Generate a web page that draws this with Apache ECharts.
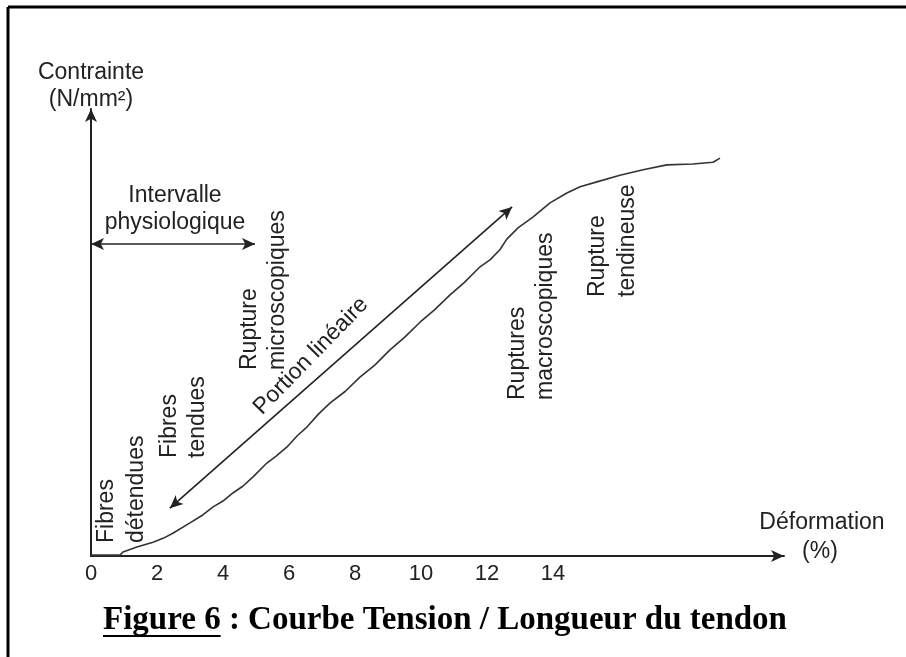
<!DOCTYPE html>
<html>
<head>
<meta charset="utf-8">
<script src="https://cdn.jsdelivr.net/npm/echarts@6/dist/echarts.min.js"></script>
<style>
  html, body { margin: 0; padding: 0; background: #fff; }
  #main { width: 906px; height: 657px; }
</style>
</head>
<body>
<div id="main"></div>
<script>
// deformation (%) / stress (arbitrary units, 0-100)
var strainPts = [0, 0.88, 0.97, 1.39, 1.88, 2.2, 2.48, 3.0, 3.35, 3.7, 4.0, 4.3, 4.6, 4.91, 5.33, 5.6, 5.94, 6.25, 6.55, 6.9, 7.24, 7.7, 8.15, 8.6, 9.06, 9.5, 9.97, 10.4, 10.88, 11.3, 11.79, 12.1, 12.39, 12.6, 12.79, 12.94, 13.39, 13.91, 14.42, 14.82, 15.33, 16.03, 16.73, 17.45, 18.24, 18.85, 19.06];
var stressPts = [0.2, 0.2, 0.9, 2.0, 3.1, 4.0, 5.1, 7.4, 9.0, 11.0, 12.3, 14.1, 15.6, 17.7, 20.8, 22.3, 24.4, 26.9, 28.9, 31.8, 34.2, 36.8, 40.0, 42.7, 46.1, 48.9, 52.3, 55.0, 58.4, 61.1, 64.7, 66.3, 68.5, 70.9, 72.3, 73.4, 75.8, 79.0, 81.2, 82.6, 83.7, 85.2, 86.4, 87.5, 87.7, 88.1, 89.0];
var xTicks = [0, 2, 4, 6, 8, 10, 12, 14];
// double arrows: [x1, y1, x2, y2]
var linearArrow = [2.39, 10.7, 12.76, 78.1];
var physioArrow = [0, 69.8, 4.97, 69.8];

var chart = echarts.init(document.getElementById('main'));
var curve = [];
for (var i = 0; i < strainPts.length; i++) {
    curve.push([strainPts[i], stressPts[i]]);
}
var sans = '"Liberation Sans", Arial, sans-serif';
var ink = '#222';
var noteFont = '23px ' + sans;

// width of the underlined part of the caption
var ctx = document.createElement('canvas').getContext('2d');
ctx.font = 'bold 33px "Liberation Serif"';
var figW = ctx.measureText('Figure 6').width;

function vtext(x, y, s) {
    return {
        type: 'text', x: x, y: y, rotation: Math.PI / 2,
        style: { text: s, font: noteFont, fill: ink, textAlign: 'left', textVerticalAlign: 'middle' }
    };
}
function htext(x, y, s) {
    return {
        type: 'text', x: x, y: y,
        style: { text: s, font: noteFont, fill: ink, textAlign: 'center', textVerticalAlign: 'middle' }
    };
}

var option = {
    animation: false,
    backgroundColor: '#fff',
    grid: { left: 91, top: 109, width: 693, bottom: 101 },
    xAxis: {
        type: 'value', min: 0, max: 21, interval: 1,
        axisLine: { show: true, symbol: ['none', 'arrow'], symbolSize: [9, 13], lineStyle: { color: ink, width: 2 } },
        axisTick: { show: false },
        splitLine: { show: false },
        axisLabel: {
            margin: 7, color: ink, fontSize: 22, fontFamily: sans,
            formatter: function(v) { return xTicks.indexOf(v) >= 0 ? String(v) : ''; }
        }
    },
    yAxis: {
        type: 'value', min: 0, max: 100,
        axisLine: { show: true, symbol: ['none', 'arrow'], symbolSize: [9, 13], lineStyle: { color: ink, width: 2 } },
        axisTick: { show: false },
        splitLine: { show: false },
        axisLabel: { show: false }
    },
    series: [{
        type: 'line',
        data: curve,
        showSymbol: false,
        smooth: false,
        lineStyle: { color: '#333', width: 1.6 },
        markLine: {
            silent: true,
            symbol: ['arrow', 'arrow'],
            symbolSize: [9, 13],
            label: { show: false },
            lineStyle: { color: ink, width: 1.6, type: 'solid' },
            data: [
                [{ coord: [linearArrow[0], linearArrow[1]] }, { coord: [linearArrow[2], linearArrow[3]] }],
                [{ coord: [physioArrow[0], physioArrow[1]] }, { coord: [physioArrow[2], physioArrow[3]] }]
            ]
        }
    }],
    graphic: [
        { type: 'line', shape: { x1: 8, y1: 7, x2: 906, y2: 7 }, style: { stroke: '#000', lineWidth: 3 } },
        { type: 'line', shape: { x1: 8, y1: 7, x2: 8, y2: 657 }, style: { stroke: '#000', lineWidth: 3 } },
        htext(91, 73, 'Contrainte'),
        htext(91, 100, '(N/mm²)'),
        htext(822, 523, 'Déformation'),
        htext(820, 552, '(%)'),
        htext(175, 196, 'Intervalle'),
        htext(175, 223, 'physiologique'),
        vtext(107, 543, 'Fibres'),
        vtext(137, 543, 'détendues'),
        vtext(170, 458, 'Fibres'),
        vtext(198, 458, 'tendues'),
        vtext(250, 370, 'Rupture'),
        vtext(278, 370, 'microscopiques'),
        vtext(518, 400, 'Ruptures'),
        vtext(546, 400, 'macroscopiques'),
        vtext(598, 297, 'Rupture'),
        vtext(628, 297, 'tendineuse'),
        {
            type: 'text', x: 311, y: 356, rotation: 0.8,
            style: { text: 'Portion linéaire', font: noteFont, fill: ink, textAlign: 'center', textVerticalAlign: 'middle' }
        },
        {
            type: 'text', x: 103, y: 620,
            style: { text: 'Figure 6 : Courbe Tension / Longueur du tendon', font: 'bold 33px "Liberation Serif"', fill: '#000', textAlign: 'left', textVerticalAlign: 'middle' }
        },
        { type: 'line', shape: { x1: 103, y1: 636, x2: 103 + figW, y2: 636 }, style: { stroke: '#000', lineWidth: 2 } }
    ]
};
chart.setOption(option);
</script>
</body>
</html>
